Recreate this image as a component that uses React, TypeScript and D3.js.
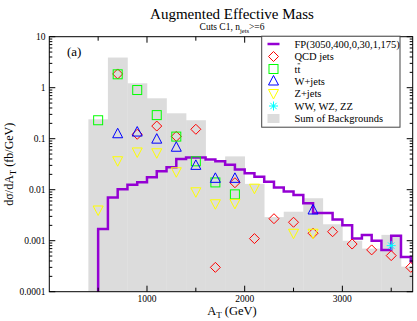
import React, { useEffect, useRef } from "react";
import * as d3 from "d3";

// Sum of backgrounds, 200 GeV bins starting at 400
const bgBinStart = [400, 600, 800, 1000, 1200, 1400, 1600, 1800, 2000, 2200, 2400, 2600, 2800, 3000, 3200, 3400, 3600];
const bgSum = [0.24, 3.9, 1.22, 0.62, 0.315, 0.23, 0.036, 0.045, 0.013, 0.0029, 0.0037, 0.0068, 0.0021, 0.001, 0.0007, 0.0013, 0.00031];

// signal FP(3050,...) histogram, 100 GeV bins starting at 500
const fpBinStart = d3.range(500, 3800, 100);
const fpVal = [
  0.0017, 0.007, 0.0102, 0.0125, 0.014, 0.0175, 0.023, 0.0275, 0.04, 0.043,
  0.043, 0.039, 0.036, 0.031, 0.025, 0.021, 0.018, 0.0143, 0.011, 0.0092,
  0.0079, 0.0054, 0.0035, 0.0035, 0.0026, 0.002, 0.0011, 0.0013, 0.001, 0.00066,
  0.00125, 0.00048, 0.00039,
];

const qcdX = [700, 900, 1100, 1300, 1500, 1700, 1900, 2100, 2300, 2500, 2700, 2900, 3100, 3300, 3500, 3700];
const qcdY = [1.86, 0.122, 0.177, 0.111, 0.153, 0.0003, 0.0137, 0.0011, 0.0027, 0.0023, 0.0014, 0.0015, 0.00086, 0.00066, 0.00051, 0.0003];
const ttX = [500, 700, 900, 1100, 1300, 1500, 1700, 1900];
const ttY = [0.23, 1.83, 0.9, 0.29, 0.11, 0.036, 0.0139, 0.0081];
const wX = [700, 900, 1100, 1300, 1500, 1700, 1900, 2700];
const wY = [0.125, 0.135, 0.098, 0.068, 0.03, 0.0167, 0.0167, 0.004];
const zX = [500, 700, 900, 1100, 1300, 1500, 1700, 1900, 2100, 2500, 2700];
const zY = [0.004, 0.037, 0.055, 0.053, 0.0225, 0.0091, 0.0053, 0.0054, 0.0107, 0.0014, 0.0014];
const wwX = [3500];
const wwY = [0.0008];

const xMajor = [1000, 2000, 3000];
const yMajor = [0.0001, 0.001, 0.01, 0.1, 1, 10];
const yLabels = ["0.0001", "0.001", "0.01", "0.1", "1", "10"];

const FONT = "'Liberation Serif', 'DejaVu Serif', serif";

const App = () => {
  const svgRef = useRef(null);

  useEffect(() => {
    const svg = d3.select(svgRef.current);
    svg.selectAll("*").remove();

    const left = 49.3, right = 412.7, top = 36.7, bottom = 291.7;
    const x = d3.scaleLinear().domain([0, 3720]).range([left, right]);
    const y = d3.scaleLog().domain([0.0001, 10]).range([bottom, top]);

    svg.append("defs").append("clipPath").attr("id", "plotclip")
      .append("rect").attr("x", left).attr("y", top)
      .attr("width", right - left).attr("height", bottom - top);

    const plot = svg.append("g").attr("clip-path", "url(#plotclip)");

    // gray background sum
    plot.selectAll("rect.bg").data(bgBinStart).enter().append("rect")
      .attr("x", (d) => x(d))
      .attr("width", (d) => x(d + 200) - x(d) + 0.3)
      .attr("y", (d, i) => y(bgSum[i]))
      .attr("height", (d, i) => bottom - y(bgSum[i]))
      .attr("fill", "#dcdcdc");

    // signal step line
    let p = `M${x(500)},${bottom + 5}`;
    fpBinStart.forEach((b, i) => {
      p += `L${x(b)},${y(fpVal[i])}L${x(b + 100)},${y(fpVal[i])}`;
    });
    plot.append("path").attr("d", p).attr("fill", "none")
      .attr("stroke", "#9400d3").attr("stroke-width", 2.5);

    const drawDiamond = (g, cx, cy) =>
      g.append("path").attr("d", `M${cx},${cy - 5}L${cx + 5},${cy}L${cx},${cy + 5}L${cx - 5},${cy}Z`)
        .attr("fill", "none").attr("stroke", "#ff0000").attr("stroke-width", 1);
    const drawSquare = (g, cx, cy) =>
      g.append("rect").attr("x", cx - 4.5).attr("y", cy - 4.5).attr("width", 9).attr("height", 9)
        .attr("fill", "none").attr("stroke", "#00ff00").attr("stroke-width", 1);
    const drawUp = (g, cx, cy) =>
      g.append("path").attr("d", `M${cx},${cy - 5.5}L${cx + 5},${cy + 4}L${cx - 5},${cy + 4}Z`)
        .attr("fill", "none").attr("stroke", "#0000ff").attr("stroke-width", 1);
    const drawDown = (g, cx, cy) =>
      g.append("path").attr("d", `M${cx},${cy + 5.5}L${cx + 5},${cy - 4}L${cx - 5},${cy - 4}Z`)
        .attr("fill", "none").attr("stroke", "#ffff00").attr("stroke-width", 1);
    const drawStar = (g, cx, cy) => {
      const r = 4.5;
      for (let k = 0; k < 4; k++) {
        const a = (k * Math.PI) / 4;
        g.append("line")
          .attr("x1", cx - r * Math.cos(a)).attr("y1", cy - r * Math.sin(a))
          .attr("x2", cx + r * Math.cos(a)).attr("y2", cy + r * Math.sin(a))
          .attr("stroke", "#00ffff").attr("stroke-width", 1);
      }
      g.append("circle").attr("cx", cx).attr("cy", cy).attr("r", 1.2).attr("fill", "#00ffff");
    };

    qcdX.forEach((v, i) => drawDiamond(plot, x(v), y(qcdY[i])));
    ttX.forEach((v, i) => drawSquare(plot, x(v), y(ttY[i])));
    wX.forEach((v, i) => drawUp(plot, x(v), y(wY[i])));
    zX.forEach((v, i) => drawDown(plot, x(v), y(zY[i])));
    wwX.forEach((v, i) => drawStar(plot, x(v), y(wwY[i])));

    // frame
    svg.append("rect").attr("x", left).attr("y", top)
      .attr("width", right - left).attr("height", bottom - top)
      .attr("fill", "none").attr("stroke", "#000").attr("stroke-width", 1);

    const axes = svg.append("g").attr("stroke", "#000").attr("stroke-width", 1);
    // x ticks (inward, bottom and top)
    d3.range(500, 3720, 500).forEach((t) => {
      const len = t % 1000 === 0 ? 6 : 4;
      axes.append("line").attr("x1", x(t)).attr("x2", x(t)).attr("y1", bottom).attr("y2", bottom - len);
      axes.append("line").attr("x1", x(t)).attr("x2", x(t)).attr("y1", top).attr("y2", top + len);
    });
    // y ticks (log, inward both sides)
    yMajor.forEach((m, idx) => {
      axes.append("line").attr("x1", left).attr("x2", left + 6).attr("y1", y(m)).attr("y2", y(m));
      axes.append("line").attr("x1", right).attr("x2", right - 6).attr("y1", y(m)).attr("y2", y(m));
      if (idx < yMajor.length - 1) {
        for (let k = 2; k <= 9; k++) {
          const v = m * k;
          axes.append("line").attr("x1", left).attr("x2", left + 3).attr("y1", y(v)).attr("y2", y(v));
          axes.append("line").attr("x1", right).attr("x2", right - 3).attr("y1", y(v)).attr("y2", y(v));
        }
      }
    });

    const txt = svg.append("g").attr("font-family", FONT).attr("fill", "#000");
    xMajor.forEach((t) => {
      txt.append("text").attr("x", x(t)).attr("y", 302).attr("text-anchor", "middle")
        .attr("font-size", 9.5).text(t);
    });
    yMajor.forEach((m, i) => {
      txt.append("text").attr("x", 45.5).attr("y", y(m) + 3.3).attr("text-anchor", "end")
        .attr("font-size", 9.5).text(yLabels[i]);
    });

    // titles
    txt.append("text").attr("x", 232).attr("y", 19).attr("text-anchor", "middle")
      .attr("font-size", 15).text("Augmented Effective Mass");
    const sub = txt.append("text").attr("x", 232).attr("y", 30).attr("text-anchor", "middle")
      .attr("font-size", 9.5);
    sub.append("tspan").text("Cuts C1, n");
    sub.append("tspan").attr("dy", 3).attr("font-size", 6.5).text("jets");
    sub.append("tspan").attr("dy", -3).text(">=6");

    const xl = txt.append("text").attr("x", 232).attr("y", 315).attr("text-anchor", "middle")
      .attr("font-size", 12.5);
    xl.append("tspan").text("A");
    xl.append("tspan").attr("dy", 3).attr("font-size", 9).text("T");
    xl.append("tspan").attr("dy", -3).text(" (GeV)");

    const yl = txt.append("text").attr("transform", `translate(13,${(top + bottom) / 2}) rotate(-90)`)
      .attr("text-anchor", "middle").attr("font-size", 12);
    yl.append("tspan").text("dσ/dA");
    yl.append("tspan").attr("dy", 3).attr("font-size", 9).text("T");
    yl.append("tspan").attr("dy", -3).text(" (fb/GeV)");

    txt.append("text").attr("x", 67).attr("y", 56).attr("font-size", 13).text("(a)");

    // legend
    const lg = svg.append("g");
    lg.append("rect").attr("x", 261.7).attr("y", 36.2).attr("width", 138.3).attr("height", 91)
      .attr("fill", "#fff").attr("stroke", "#444").attr("stroke-width", 1);
    const rows = [44, 56.5, 69, 81, 93.5, 106, 118.5];
    const mx = 273.5;
    lg.append("line").attr("x1", mx - 6).attr("x2", mx + 6).attr("y1", rows[0]).attr("y2", rows[0])
      .attr("stroke", "#9400d3").attr("stroke-width", 2.5);
    drawDiamond(lg, mx, rows[1]);
    drawSquare(lg, mx, rows[2]);
    drawUp(lg, mx, rows[3]);
    drawDown(lg, mx, rows[4]);
    drawStar(lg, mx, rows[5]);
    lg.append("rect").attr("x", mx - 6).attr("y", rows[6] - 4.5).attr("width", 12).attr("height", 9)
      .attr("fill", "#dcdcdc");
    const labels = ["FP(3050,400,0,30,1,175)", "QCD jets", "tt", "W+jets", "Z+jets", "WW, WZ, ZZ", "Sum of Backgrounds"];
    const lx = 294.5;
    labels.forEach((l, i) => {
      const t = lg.append("text").attr("x", lx).attr("y", rows[i] + 3.5)
        .attr("font-family", FONT).attr("font-size", 10.5).attr("fill", "#000").text(l);
      if (i === 2) {
        // bar over the second t
        const node = t.node();
        let w1 = 2.9, w2 = 5.8;
        try {
          w1 = node.getSubStringLength(0, 1);
          w2 = node.getComputedTextLength();
        } catch (e) { /* keep estimates */ }
        lg.append("line").attr("x1", lx + w1 + 0.2).attr("x2", lx + w2 - 0.2)
          .attr("y1", rows[i] - 5.2).attr("y2", rows[i] - 5.2)
          .attr("stroke", "#000").attr("stroke-width", 0.7);
      }
    });
  }, []);

  return (
    <svg ref={svgRef} width={417} height={321}
      style={{ position: "absolute", left: 0, top: 0, background: "#fff" }} />
  );
};

export default App;
